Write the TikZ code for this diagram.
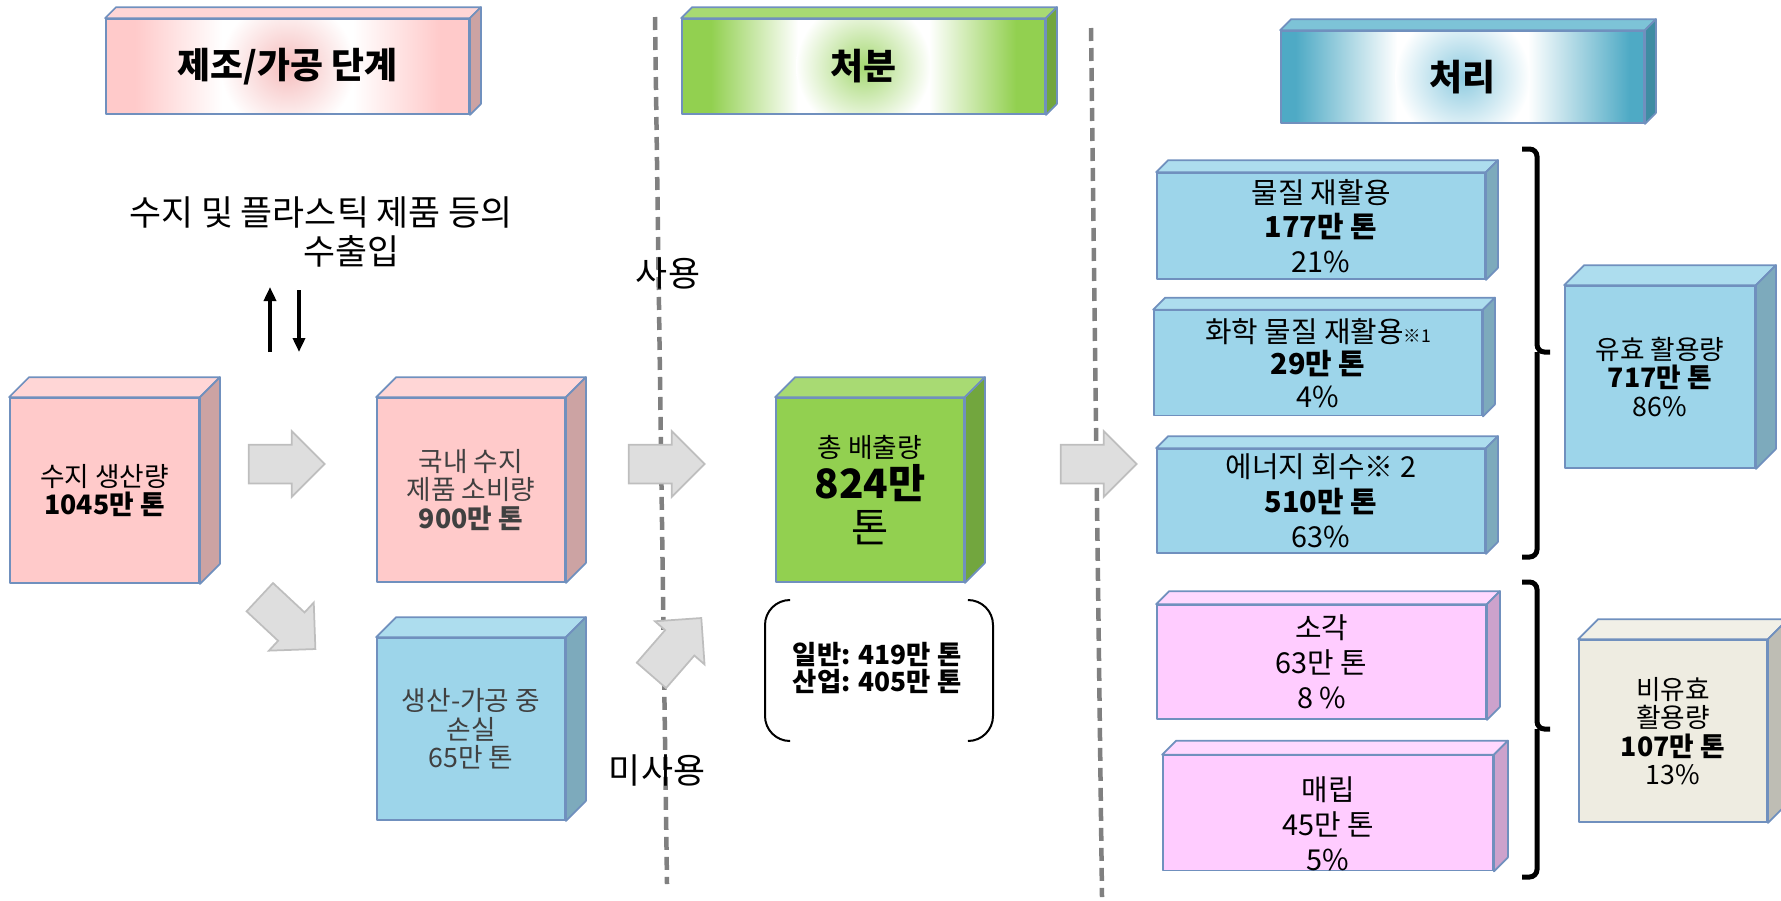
\documentclass[tikz,border=0pt]{standalone}
\usepackage{fontspec}
\setmainfont{Noto Sans CJK KR}
\usetikzlibrary{arrows.meta,shapes,calc}

\definecolor{edgeblue}{HTML}{7090BE}
\definecolor{pinkfront}{HTML}{FFCACA}
\definecolor{pinktop}{HTML}{FFD6D6}
\definecolor{pinkside}{HTML}{CCA3A3}
\definecolor{pinkglowc}{HTML}{F6BDBD}
\definecolor{bluefront}{HTML}{9DD5EA}
\definecolor{bluetop}{HTML}{ADDDEE}
\definecolor{blueside}{HTML}{7DAABC}
\definecolor{bluehead}{HTML}{4EAAC5}
\definecolor{bluehtop}{HTML}{7DC3D7}
\definecolor{bluehside}{HTML}{3F8CA3}
\definecolor{blueglowc}{HTML}{8ECBE0}
\definecolor{greenfront}{HTML}{92D050}
\definecolor{greentop}{HTML}{A8DA73}
\definecolor{greenside}{HTML}{72A63E}
\definecolor{greenglowc}{HTML}{A5D872}
\definecolor{magfront}{HTML}{FFCCFF}
\definecolor{magtop}{HTML}{FFD8FF}
\definecolor{magside}{HTML}{CCA2CC}
\definecolor{beigefront}{HTML}{EEECE1}
\definecolor{beigetop}{HTML}{F1F0E7}
\definecolor{beigeside}{HTML}{BEBDB4}
\definecolor{arrowfill}{HTML}{DEDEDE}
\definecolor{arrowedge}{HTML}{BEBEBE}
\definecolor{divgray}{HTML}{808080}
\definecolor{greytext}{HTML}{404040}

\pgfdeclarehorizontalshading{pinkband}{100bp}{color(0bp)=(pinkfront); color(29bp)=(pinkfront); color(41bp)=(white); color(59bp)=(white); color(71bp)=(pinkfront); color(100bp)=(pinkfront)}
\pgfdeclareradialshading{pinkglow}{\pgfpoint{0bp}{0bp}}{color(0bp)=(pinkglowc); color(25bp)=(white); color(50bp)=(white)}
\pgfdeclarehorizontalshading{greenband}{100bp}{color(0bp)=(greenfront); color(29bp)=(greenfront); color(41bp)=(white); color(59bp)=(white); color(71bp)=(greenfront); color(100bp)=(greenfront)}
\pgfdeclareradialshading{greenglow}{\pgfpoint{0bp}{0bp}}{color(0bp)=(greenglowc); color(25bp)=(white); color(50bp)=(white)}
\pgfdeclarehorizontalshading{blueband}{100bp}{color(0bp)=(bluehead); color(27bp)=(bluehead); color(41bp)=(white); color(59bp)=(white); color(73bp)=(bluehead); color(100bp)=(bluehead)}
\pgfdeclareradialshading{blueglow}{\pgfpoint{0bp}{0bp}}{color(0bp)=(blueglowc); color(25bp)=(white); color(50bp)=(white)}

\tikzstyle{face}=[draw=edgeblue, line width=0.35mm, line join=round]
\tikzstyle{cube}=[face, inner sep=0pt, align=center, font=\fontsize{15.2}{16.2}\selectfont]
\tikzstyle{slab}=[face, inner sep=0pt, align=center, font=\fontsize{16.4}{19.8}\selectfont]
\tikzstyle{header}=[face, inner sep=0pt, font=\fontsize{20.4}{24}\selectfont\bfseries]
\tikzstyle{bigtext}=[font=\fontsize{19.8}{22.5}\selectfont, align=center]
\tikzstyle{flow}=[single arrow, draw=arrowedge, fill=arrowfill, line width=0.35mm, inner xsep=0pt, inner ysep=3.7mm, single arrow head extend=2.7mm, single arrow tip angle=90, minimum height=15.2mm]
\tikzstyle{divider}=[draw=divgray, line width=0.9mm, dash pattern=on 2.6mm off 1.4mm]
\tikzstyle{trade}=[line width=0.7mm, -{Triangle[length=2.8mm,width=2.4mm]}]
\tikzstyle{brace}=[line width=1mm, rounded corners=1.5mm]
\tikzstyle{paren}=[line width=0.4mm, rounded corners=5mm]
\tikzset{wh/.style 2 args={minimum width=#1*0.2mm, minimum height=#2*0.2mm},
  glowfill/.style={path picture={
    \shade[shading=#1band] (path picture bounding box.south west) rectangle (path picture bounding box.north east);
    \shade[shading=#1glow] (path picture bounding box.center) circle (13.5mm);}}}

\begin{document}
\begin{tikzpicture}[x=0.2mm, y=-0.2mm]
\useasboundingbox (0,0) rectangle (1781,900);

% dividers
\coordinate (d1top) at (655,17);
\coordinate (d1bot) at (667,884);
\coordinate (d2top) at (1091,28);
\coordinate (d2bot) at (1102,897);
\draw[divider] (d1top) -- (d1bot);
\draw[divider] (d2top) -- (d2bot);

% stage headers
\node[header, wh={363}{95}, glowfill=pink] (stage1) at (287.5,66.5) {제조/가공 단계};
\node[header, wh={363}{95}, glowfill=green] (stage2) at (863.5,66.5) {처분};
\node[header, wh={363}{92}, glowfill=blue] (stage3) at (1462.5,77) {처리};

% manufacturing
\node[bigtext] (trade) at (321,232) {수지 및 플라스틱 제품 등의\\\hspace*{1.75em}수출입};
\coordinate (impS) at (270,352);
\coordinate (impE) at (270,287);
\coordinate (expS) at (299,290);
\coordinate (expE) at (299,352);
\draw[trade] (impS) -- (impE);
\draw[trade] (expS) -- (expE);

\node[cube, wh={189}{185}, fill=pinkfront] (prod) at (104.5,490.5) {수지 생산량\\\textbf{1045만 톤}};
\node[cube, wh={188}{184}, fill=pinkfront, text=greytext] (cons) at (471,490) {국내 수지\\제품 소비량\\\textbf{900만 톤}};
\node[cube, wh={188}{182}, fill=bluefront, text=greytext] (loss) at (471,729) {생산-가공 중\\손실\\65만 톤};

% disposal
\node[bigtext] (used) at (668,273) {사용};
\node[bigtext] (unusedtxt) at (657,770) {미사용};
\node[cube, wh={188}{184}, fill=greenfront] (total) at (870,490) {총 배출량\\[2pt]{\fontsize{23}{26}\selectfont\textbf{824만}}\\[4pt]{\fontsize{23}{26}\selectfont 톤}};
\node[font=\fontsize{15}{15.9}\selectfont\bfseries, align=center] (split) at (877,668) {일반: 419만 톤\\산업: 405만 톤};
\draw[paren] (790,600) -- (765,600) -- (765,741) -- (790,741);
\draw[paren] (968,600) -- (993,600) -- (993,741) -- (968,741);

% treatment
\node[slab, wh={328}{106}, fill=bluefront] (mat) at (1321,226) {물질 재활용\\\textbf{177만 톤}\\21\%};
\node[slab, wh={328}{105}, fill=bluefront, font=\fontsize{16.4}{18.5}\selectfont] (chem) at (1318,363) {화학 물질 재활용{\fontsize{10}{10}\selectfont ※1}\\\textbf{29만 톤}\\4\%};
\node[slab, wh={328}{104}, fill=bluefront] (energy) at (1321,501) {에너지 회수※ 2\\\textbf{510만 톤}\\63\%};
\node[slab, wh={329}{114}, fill=magfront] (burn) at (1321.5,662) {소각\\63만 톤\\8 \%};
\node[slab, wh={330}{110}, fill=magfront] (landfill) at (1328,813) {\rule{0pt}{9mm}매립\\45만 톤\\5\%};
\node[cube, wh={190}{182}, fill=bluefront] (useful) at (1660,377) {유효 활용량\\\textbf{717만 톤}\\86\%};
\node[cube, wh={188}{182}, fill=beigefront] (unused) at (1673,731) {비유효\\활용량\\\textbf{107만 톤}\\13\%};

% top and side faces
\foreach \nm/\dep/\tc/\sc in {stage1/11/pinktop/pinkside, stage2/11/greentop/greenside,
    stage3/11/bluehtop/bluehside, prod/20/pinktop/pinkside, cons/20/pinktop/pinkside,
    loss/20/bluetop/blueside, total/20/greentop/greenside, mat/12/bluetop/blueside,
    chem/12/bluetop/blueside, energy/12/bluetop/blueside, burn/13/magtop/magside,
    landfill/14/magtop/magside, useful/20/bluetop/blueside, unused/20/beigetop/beigeside}{
  \filldraw[face, fill=\tc] (\nm.north west) -- ++(\dep,-\dep) -- ($(\nm.north east)+(\dep,-\dep)$) -- (\nm.north east) -- cycle;
  \filldraw[face, fill=\sc] (\nm.north east) -- ++(\dep,-\dep) -- ($(\nm.south east)+(\dep,-\dep)$) -- (\nm.south east) -- cycle;
}

% block arrows
\node[flow] (a1) at (277,464) {};
\node[flow, rotate=-43] (a2) at (280.5,616.5) {};
\node[flow] (a3) at (657,464) {};
\node[flow, rotate=49] (a4) at (670,654) {};
\node[flow] (a5) at (1089,464) {};

% braces
\draw[brace] (1522,149) -| (1537,352) -- (1550,352);
\draw[brace] (1537,352) |- (1522,557);
\draw[brace] (1522,582) -| (1537,729) -- (1550,729);
\draw[brace] (1537,729) |- (1522,877);
\end{tikzpicture}
\end{document}
